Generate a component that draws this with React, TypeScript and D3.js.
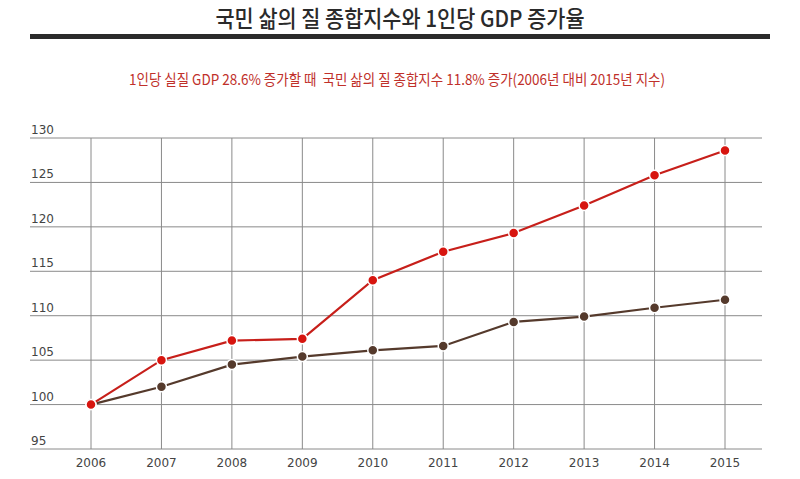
import React from "react";
import * as d3 from "d3";

const years = [2006, 2007, 2008, 2009, 2010, 2011, 2012, 2013, 2014, 2015];
const gdpIndex = [100, 105.0, 107.2, 107.4, 114.0, 117.2, 119.3, 122.4, 125.8, 128.6];
const lifeIndex = [100, 102.0, 104.5, 105.4, 106.1, 106.6, 109.3, 109.9, 110.9, 111.8];
const yTicks = [95, 100, 105, 110, 115, 120, 125, 130];
const title = "국민 삶의 질 종합지수와 1인당 GDP 증가율";
const subtitle = "1인당 실질 GDP 28.6% 증가할 때  국민 삶의 질 종합지수 11.8% 증가(2006년 대비 2015년 지수)";

const W = 800;
const H = 479;

export default function App() {
  const x = d3.scalePoint<number>().domain(years).range([91, 725]);
  const y = d3.scaleLinear().domain([95, 130]).range([449, 138]);
  const line = d3
    .line<number>()
    .x((_, i) => x(years[i]) as number)
    .y((d) => y(d));

  const series = [
    { values: lifeIndex, color: "#553a2c" },
    { values: gdpIndex, color: "#c71f1a", dot: "#d7150f" },
  ];

  return (
    <svg
      width={W}
      height={H}
      style={{ position: "absolute", left: 0, top: 0, background: "#fff" }}
      fontFamily="'Noto Sans CJK KR', 'Noto Sans', sans-serif"
    >
      <text
        x={400}
        y={27}
        textAnchor="middle"
        fontSize={23}
        fontWeight={500}
        fill="#2a2a2a"
        textLength={369}
        lengthAdjust="spacingAndGlyphs"
      >
        {title}
      </text>
      <rect x={30} y={34} width={740} height={5} fill="#2b2b2b" />
      <text
        x={397}
        y={85}
        textAnchor="middle"
        fontSize={15}
        fill="#c0302a"
        textLength={536}
        lengthAdjust="spacingAndGlyphs"
        xmlSpace="preserve"
        style={{ whiteSpace: "pre" }}
      >
        {subtitle}
      </text>

      {yTicks.map((t) => (
        <g key={t}>
          <line x1={30} x2={762} y1={y(t)} y2={y(t)} stroke="#8a8a8a" strokeWidth={1} />
          <text
            x={31}
            y={y(t) - 4}
            fontSize={12}
            fill="#444"
            fontFamily="'DejaVu Sans', sans-serif"
          >
            {t}
          </text>
        </g>
      ))}
      {years.map((yr) => (
        <g key={yr}>
          <line
            x1={x(yr)}
            x2={x(yr)}
            y1={y(130)}
            y2={y(95)}
            stroke="#8a8a8a"
            strokeWidth={1}
          />
          <text
            x={x(yr)}
            y={467}
            textAnchor="middle"
            fontSize={12}
            fill="#444"
            fontFamily="'DejaVu Sans', sans-serif"
          >
            {yr}
          </text>
        </g>
      ))}

      {series.map((s, si) => (
        <g key={si}>
          <path d={line(s.values) || ""} fill="none" stroke={s.color} strokeWidth={2.2} />
          {s.values.map((v, i) => (
            <circle
              key={i}
              cx={x(years[i])}
              cy={y(v)}
              r={5}
              fill={s.dot || s.color}
              stroke="#fff"
              strokeWidth={1.5}
            />
          ))}
        </g>
      ))}
    </svg>
  );
}
